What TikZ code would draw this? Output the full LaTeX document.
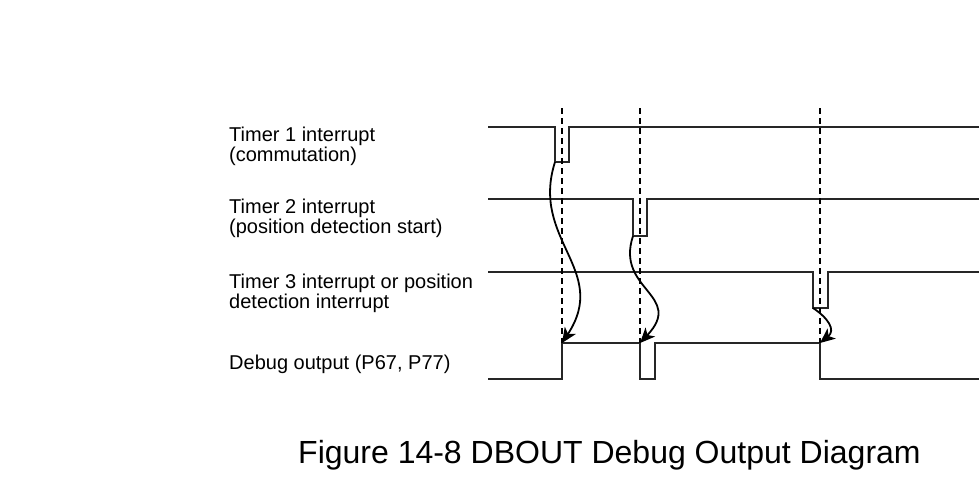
\documentclass[tikz,border=0pt]{standalone}
\usepackage{fontspec}
\setmainfont{Liberation Sans}
\usetikzlibrary{arrows.meta, positioning}

\begin{document}
\begin{tikzpicture}[x=1pt, y=-1pt,
  sig/.style={draw=black!85, line width=2.6pt, line join=miter},
  guide/.style={draw=black, line width=1.8pt, dash pattern=on 6pt off 4pt},
  cause/.style={-{Stealth[length=15pt, width=13pt, inset=4pt]}, line width=1.8pt},
  lbl/.style={anchor=base west, align=left, inner sep=0pt, font=\fontsize{20}{20}\selectfont},
  ttl/.style={anchor=base west, inner sep=0pt, font=\fontsize{32}{32}\selectfont},
]
\useasboundingbox (0,0) rectangle (979,480);
%% Labels
\node[lbl] (lt1) at (229,161) {Timer 1 interrupt\\(commutation)};
\node[lbl] (lt2) at (229,233) {Timer 2 interrupt\\(position detection start)};
\node[lbl] (lt3) at (229,308) {Timer 3 interrupt or position\\detection interrupt};
\node[lbl] (ldbg) at (229,369) {Debug output (P67, P77)};
%% Timer 1
\coordinate (t1a) at (555,162);
\draw[sig] (488,127) -- (555,127) -- (t1a) -- (569,162) -- (569,127) -- (979,127);
%% Timer 2
\coordinate (t2a) at (633,236);
\draw[sig] (488,199) -- (633,199) -- (t2a) -- (647,236) -- (647,199) -- (979,199);
%% Timer 3
\coordinate (t3a) at (813,308);
\draw[sig] (488,272) -- (813,272) -- (t3a) -- (828,308) -- (828,272) -- (979,272);
%% Debug output
\coordinate (d1) at (562,343);
\coordinate (d2) at (640,343);
\coordinate (d3) at (820,343);
\draw[sig] (488,379) -- (562,379) -- (d1) -- (d2) -- (640,379) -- (655,379)
  -- (655,343) -- (d3) -- (820,379) -- (979,379);
%% Guide lines
\coordinate (g1) at (562,108);
\coordinate (g2) at (640,108);
\coordinate (g3) at (820,108);
\draw[guide] (g1) -- (d1);
\draw[guide] (g2) -- (d2);
\draw[guide] (g3) -- (d3);
%% Trigger arrows
\draw[cause] (t1a) .. controls (530,240) and (610,270) .. (d1);
\draw[cause] (t2a) .. controls (615,290) and (685,295) .. (d2);
\draw[cause] (t3a) .. controls (828,318) and (836,330) .. (d3);
%% Caption
\node[ttl] (cap) at (298,463) {Figure 14-8 DBOUT Debug Output Diagram};
\end{tikzpicture}
\end{document}
